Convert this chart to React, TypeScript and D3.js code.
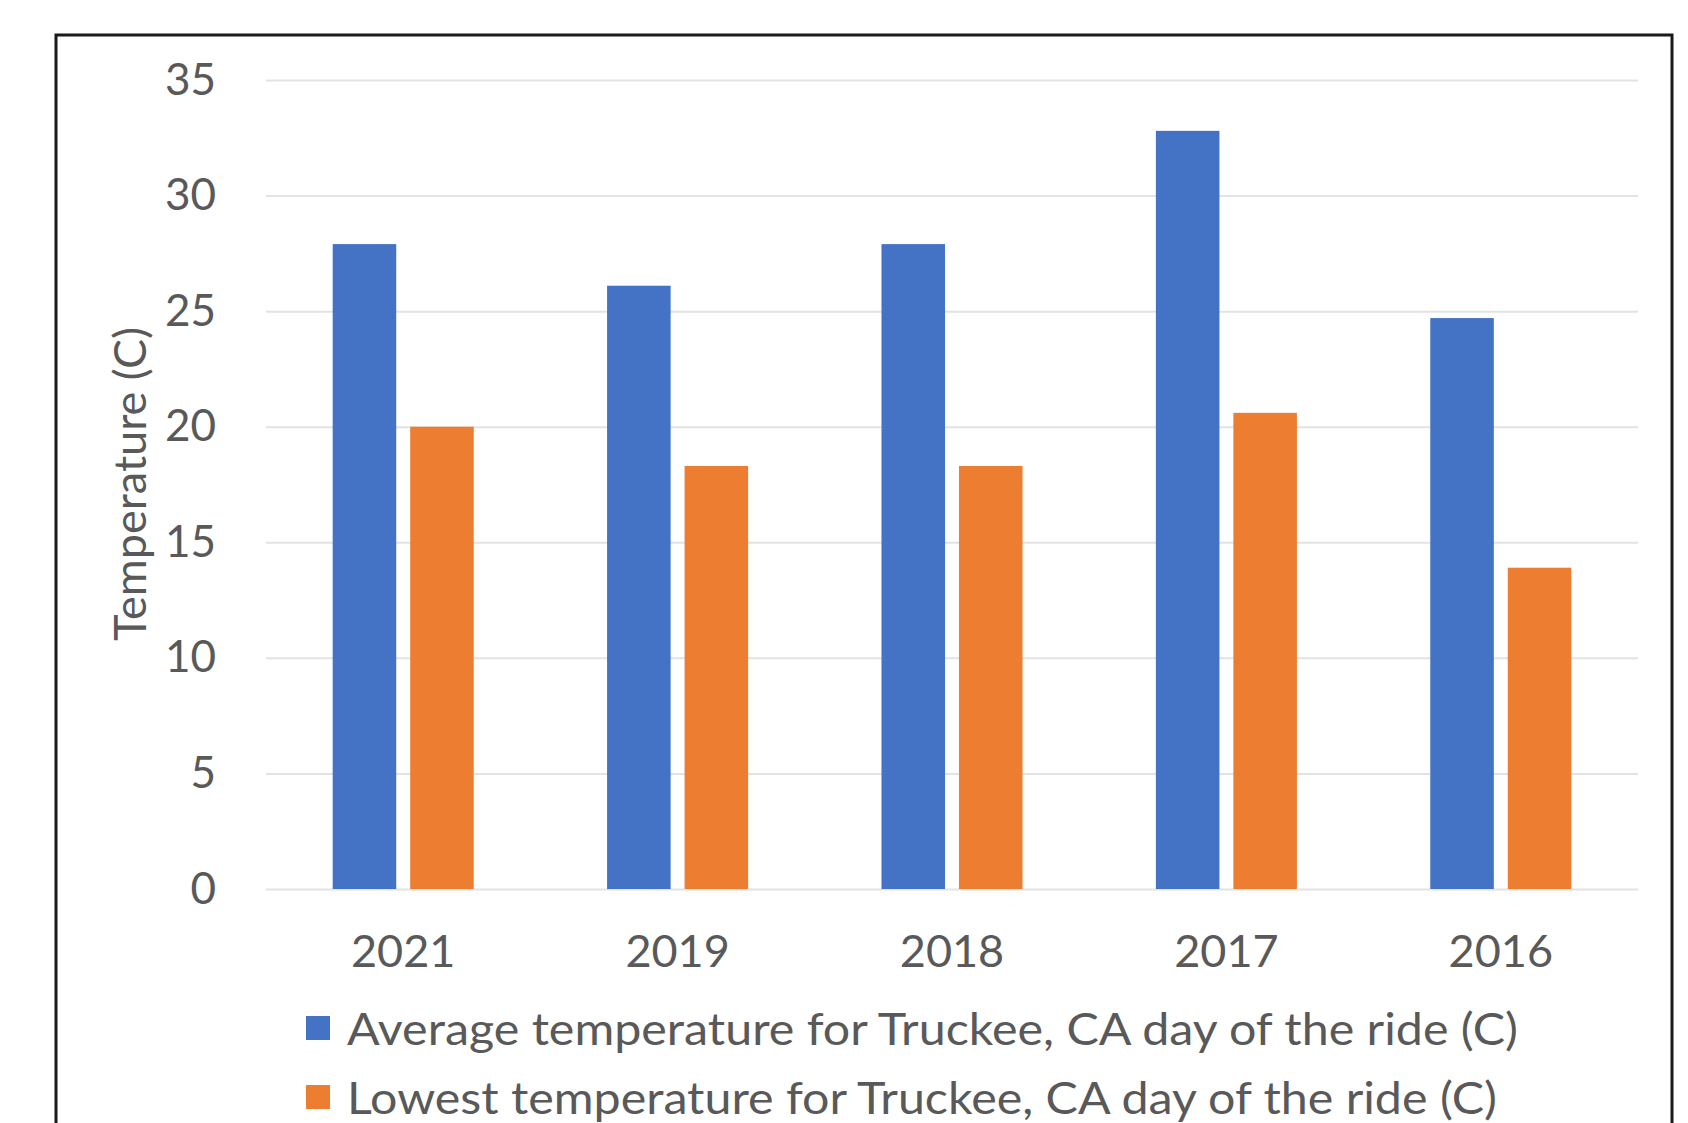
// @ts-nocheck

import React from 'react'
import * as d3 from 'd3'

const years = ['2021', '2019', '2018', '2017', '2016']
const avgTemp = [27.9, 26.1, 27.9, 32.8, 24.7]
const lowTemp = [20.0, 18.3, 18.3, 20.6, 13.9]
const seriesNames = [
  'Average temperature for Truckee, CA day of the ride (C)',
  'Lowest temperature for Truckee, CA day of the ride (C)',
]
const seriesColors = ['#4472C4', '#ED7D31']
const yTicks = [0, 5, 10, 15, 20, 25, 30, 35]

const TempChart = () => {
  const svgRef = React.useRef(null)
  const width = 1688
  const height = 1123
  const margin = { top: 80, right: 50, bottom: 234, left: 266 }

  React.useEffect(() => {
    const svgEl = d3.select(svgRef.current)
    svgEl.selectAll('*').remove()

    const innerW = width - margin.left - margin.right
    const innerH = height - margin.top - margin.bottom
    const font = 'Lato, "Open Sans", sans-serif'

    // outer frame, bottom edge is cut off like the screenshot
    svgEl
      .append('rect')
      .attr('x', 56)
      .attr('y', 35)
      .attr('width', 1616)
      .attr('height', 1200)
      .attr('fill', '#fff')
      .attr('stroke', '#1a1a1a')
      .attr('stroke-width', 3)

    const svg = svgEl
      .append('g')
      .attr('transform', `translate(${margin.left},${margin.top})`)

    const x0 = d3
      .scaleBand()
      .domain(years)
      .range([0, innerW])
      .paddingInner(0.486)
      .paddingOuter(0.243)
    const x1 = d3
      .scaleBand()
      .domain([0, 1])
      .range([0, x0.bandwidth()])
      .paddingInner(0.18)
    const y = d3.scaleLinear().domain([0, 35]).range([innerH, 0])

    // grid lines + y labels
    const yAxis = d3
      .axisLeft(y)
      .tickValues(yTicks)
      .tickSize(-innerW)
      .tickPadding(50)
    const yAxisGroup = svg.append('g').call(yAxis)
    yAxisGroup.select('.domain').remove()
    yAxisGroup.selectAll('line').attr('stroke', '#E3E3E3').attr('stroke-width', 2)
    yAxisGroup
      .selectAll('text')
      .attr('fill', '#595959')
      .attr('font-size', 44)
      .attr('font-family', font)

    // bars
    const groups = svg
      .selectAll('.grp')
      .data(years)
      .enter()
      .append('g')
      .attr('transform', (d) => `translate(${x0(d)},0)`)
    groups
      .selectAll('rect')
      .data((d, i) => [avgTemp[i], lowTemp[i]])
      .enter()
      .append('rect')
      .attr('x', (d, j) => x1(j))
      .attr('width', x1.bandwidth())
      .attr('y', (d) => y(d))
      .attr('height', (d) => innerH - y(d))
      .attr('fill', (d, j) => seriesColors[j])

    // x labels
    const xAxis = d3.axisBottom(x0).tickSize(0).tickPadding(46)
    const xAxisGroup = svg
      .append('g')
      .attr('transform', `translate(0,${innerH})`)
      .call(xAxis)
    xAxisGroup.select('.domain').remove()
    xAxisGroup
      .selectAll('text')
      .attr('fill', '#595959')
      .attr('font-size', 45)
      .attr('font-family', font)

    // y title
    svgEl
      .append('text')
      .attr('transform', 'translate(129,484) rotate(-90)')
      .attr('text-anchor', 'middle')
      .attr('dominant-baseline', 'central')
      .attr('fill', '#595959')
      .attr('font-size', 45)
      .attr('font-family', font)
      .text('Temperature (C)')

    // legend
    const legendLen = [1171, 1150]
    const legend = svgEl
      .append('g')
      .selectAll('g')
      .data(seriesNames)
      .enter()
      .append('g')
      .attr('transform', (d, i) => `translate(306,${1028 + i * 69})`)
    legend
      .append('rect')
      .attr('x', 0)
      .attr('y', -12)
      .attr('width', 24)
      .attr('height', 24)
      .attr('fill', (d, i) => seriesColors[i])
    legend
      .append('text')
      .attr('x', 41)
      .attr('y', 0)
      .attr('dominant-baseline', 'central')
      .attr('fill', '#595959')
      .attr('font-size', 44)
      .attr('font-family', font)
      .attr('textLength', (d, i) => legendLen[i])
      .attr('lengthAdjust', 'spacingAndGlyphs')
      .text((d) => d)
  }, [])

  return (
    <svg
      ref={svgRef}
      width={width}
      height={height}
      style={{ display: 'block', position: 'absolute', left: 0, top: 0 }}
    />
  )
}

export default function App() {
  return <TempChart />
}
